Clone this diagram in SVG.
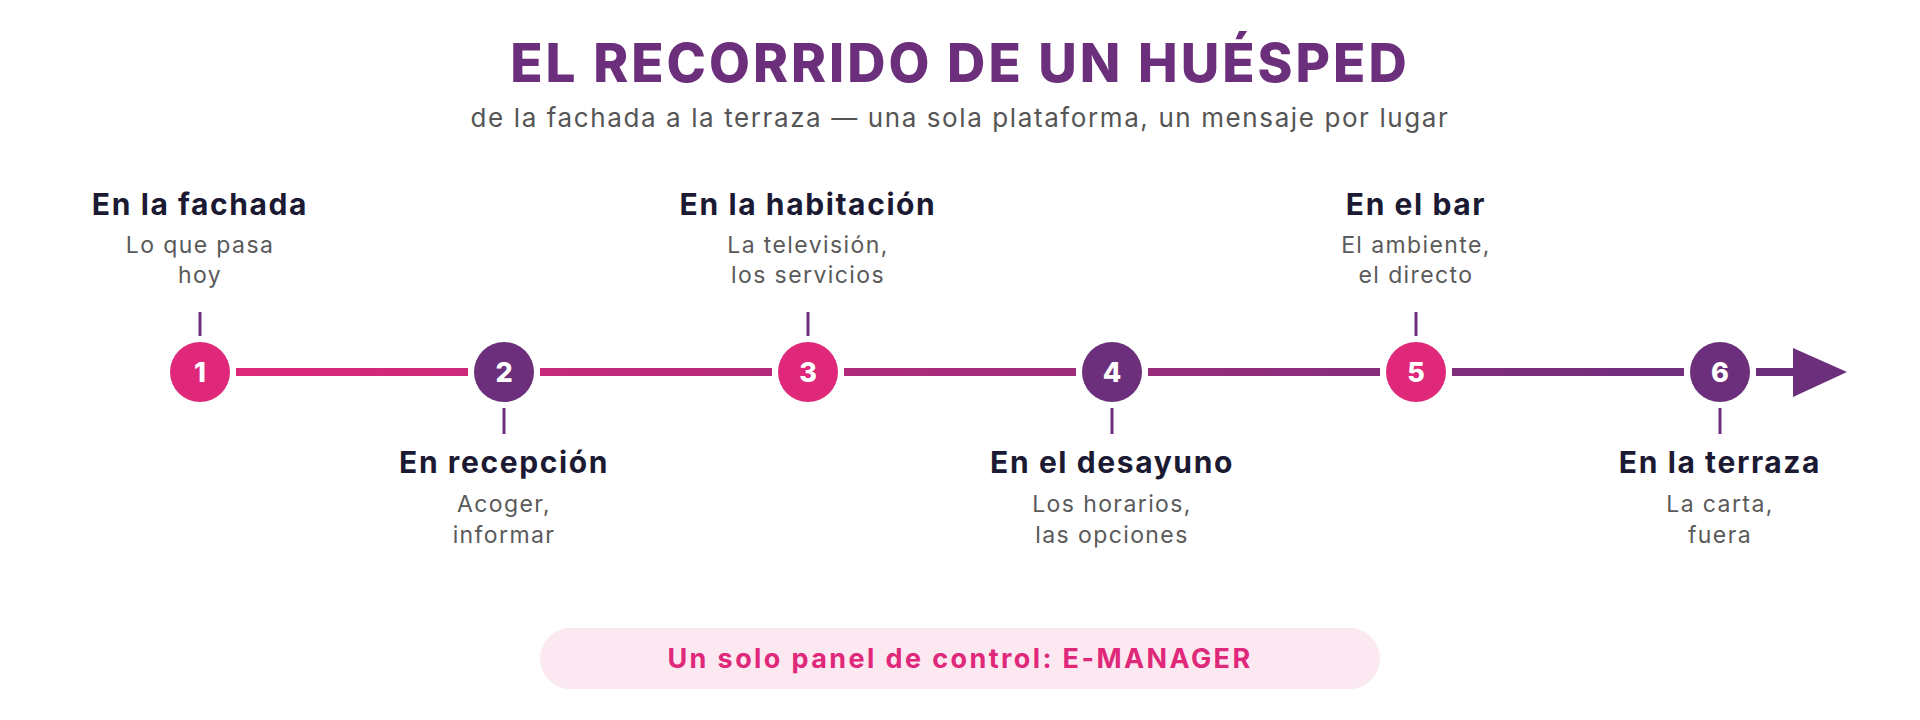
<svg xmlns="http://www.w3.org/2000/svg" width="1920" height="720" viewBox="0 0 1920 720">
  <defs>
    <linearGradient id="tl" gradientUnits="userSpaceOnUse" x1="200" y1="0" x2="1720" y2="0">
      <stop offset="0" stop-color="#e0287a"/>
      <stop offset="1" stop-color="#6c2f7c"/>
    </linearGradient>
    <style>
      .ttl{font-family:Inter,"Open Sans",sans-serif;font-weight:800;font-size:53px;letter-spacing:3px;fill:#6c2f7c;text-anchor:middle}
      .sub{font-family:Inter,"Open Sans",sans-serif;font-size:26px;letter-spacing:1.6px;fill:#555;text-anchor:middle}
      .nt{font-family:Inter,"Open Sans",sans-serif;font-weight:700;font-size:30px;letter-spacing:1.6px;fill:#1c1a33;text-anchor:middle}
      .nd{font-family:Inter,"Open Sans",sans-serif;font-size:23px;letter-spacing:1.4px;fill:#5a5a5a;text-anchor:middle}
      .num{font-family:Inter,"Open Sans",sans-serif;font-weight:800;font-size:27px;fill:#fff;text-anchor:middle}
      .pink{fill:#e0287a}
      .purple{fill:#6c2f7c}
      .tick{stroke:#6c2f7c;stroke-width:3}
      .seg{stroke:url(#tl);stroke-width:8}
      .pill{fill:#fce8f1}
      .pt{font-family:Inter,"Open Sans",sans-serif;font-weight:700;font-size:27px;letter-spacing:2.4px;fill:#e0287a;text-anchor:middle}
    </style>
  </defs>
  <rect width="1920" height="720" fill="#fff"/>
  <text class="ttl" x="960" y="82">EL RECORRIDO DE UN HUÉSPED</text>
  <text class="sub" x="960" y="127">de la fachada a la terraza — una sola plataforma, un mensaje por lugar</text>

  <g id="connectors">
    <line class="seg" x1="236" y1="372" x2="468" y2="372"/>
    <line class="seg" x1="540" y1="372" x2="772" y2="372"/>
    <line class="seg" x1="844" y1="372" x2="1076" y2="372"/>
    <line class="seg" x1="1148" y1="372" x2="1380" y2="372"/>
    <line class="seg" x1="1452" y1="372" x2="1684" y2="372"/>
    <line stroke="#6c2f7c" stroke-width="8" x1="1756" y1="372" x2="1796" y2="372"/>
    <polygon class="purple" points="1793,348 1847,372 1793,397"/>
  </g>

  <g id="node1">
    <line class="tick" x1="200" y1="312" x2="200" y2="336"/>
    <circle class="pink" cx="200" cy="372" r="30"/>
    <text class="num" x="200" y="382">1</text>
    <text class="nt" x="200" y="215">En la fachada</text>
    <text class="nd" x="200" y="253">Lo que pasa</text>
    <text class="nd" x="200" y="283">hoy</text>
  </g>
  <g id="node2">
    <line class="tick" x1="504" y1="408" x2="504" y2="434"/>
    <circle class="purple" cx="504" cy="372" r="30"/>
    <text class="num" x="504" y="382">2</text>
    <text class="nt" x="504" y="473">En recepción</text>
    <text class="nd" x="504" y="512">Acoger,</text>
    <text class="nd" x="504" y="543">informar</text>
  </g>
  <g id="node3">
    <line class="tick" x1="808" y1="312" x2="808" y2="336"/>
    <circle class="pink" cx="808" cy="372" r="30"/>
    <text class="num" x="808" y="382">3</text>
    <text class="nt" x="808" y="215">En la habitación</text>
    <text class="nd" x="808" y="253">La televisión,</text>
    <text class="nd" x="808" y="283">los servicios</text>
  </g>
  <g id="node4">
    <line class="tick" x1="1112" y1="408" x2="1112" y2="434"/>
    <circle class="purple" cx="1112" cy="372" r="30"/>
    <text class="num" x="1112" y="382">4</text>
    <text class="nt" x="1112" y="473">En el desayuno</text>
    <text class="nd" x="1112" y="512">Los horarios,</text>
    <text class="nd" x="1112" y="543">las opciones</text>
  </g>
  <g id="node5">
    <line class="tick" x1="1416" y1="312" x2="1416" y2="336"/>
    <circle class="pink" cx="1416" cy="372" r="30"/>
    <text class="num" x="1416" y="382">5</text>
    <text class="nt" x="1416" y="215">En el bar</text>
    <text class="nd" x="1416" y="253">El ambiente,</text>
    <text class="nd" x="1416" y="283">el directo</text>
  </g>
  <g id="node6">
    <line class="tick" x1="1720" y1="408" x2="1720" y2="434"/>
    <circle class="purple" cx="1720" cy="372" r="30"/>
    <text class="num" x="1720" y="382">6</text>
    <text class="nt" x="1720" y="473">En la terraza</text>
    <text class="nd" x="1720" y="512">La carta,</text>
    <text class="nd" x="1720" y="543">fuera</text>
  </g>

  <g id="panel">
    <rect class="pill" x="540" y="628" width="840" height="61" rx="30.5"/>
    <text class="pt" x="960" y="668">Un solo panel de control: E-MANAGER</text>
  </g>
</svg>
